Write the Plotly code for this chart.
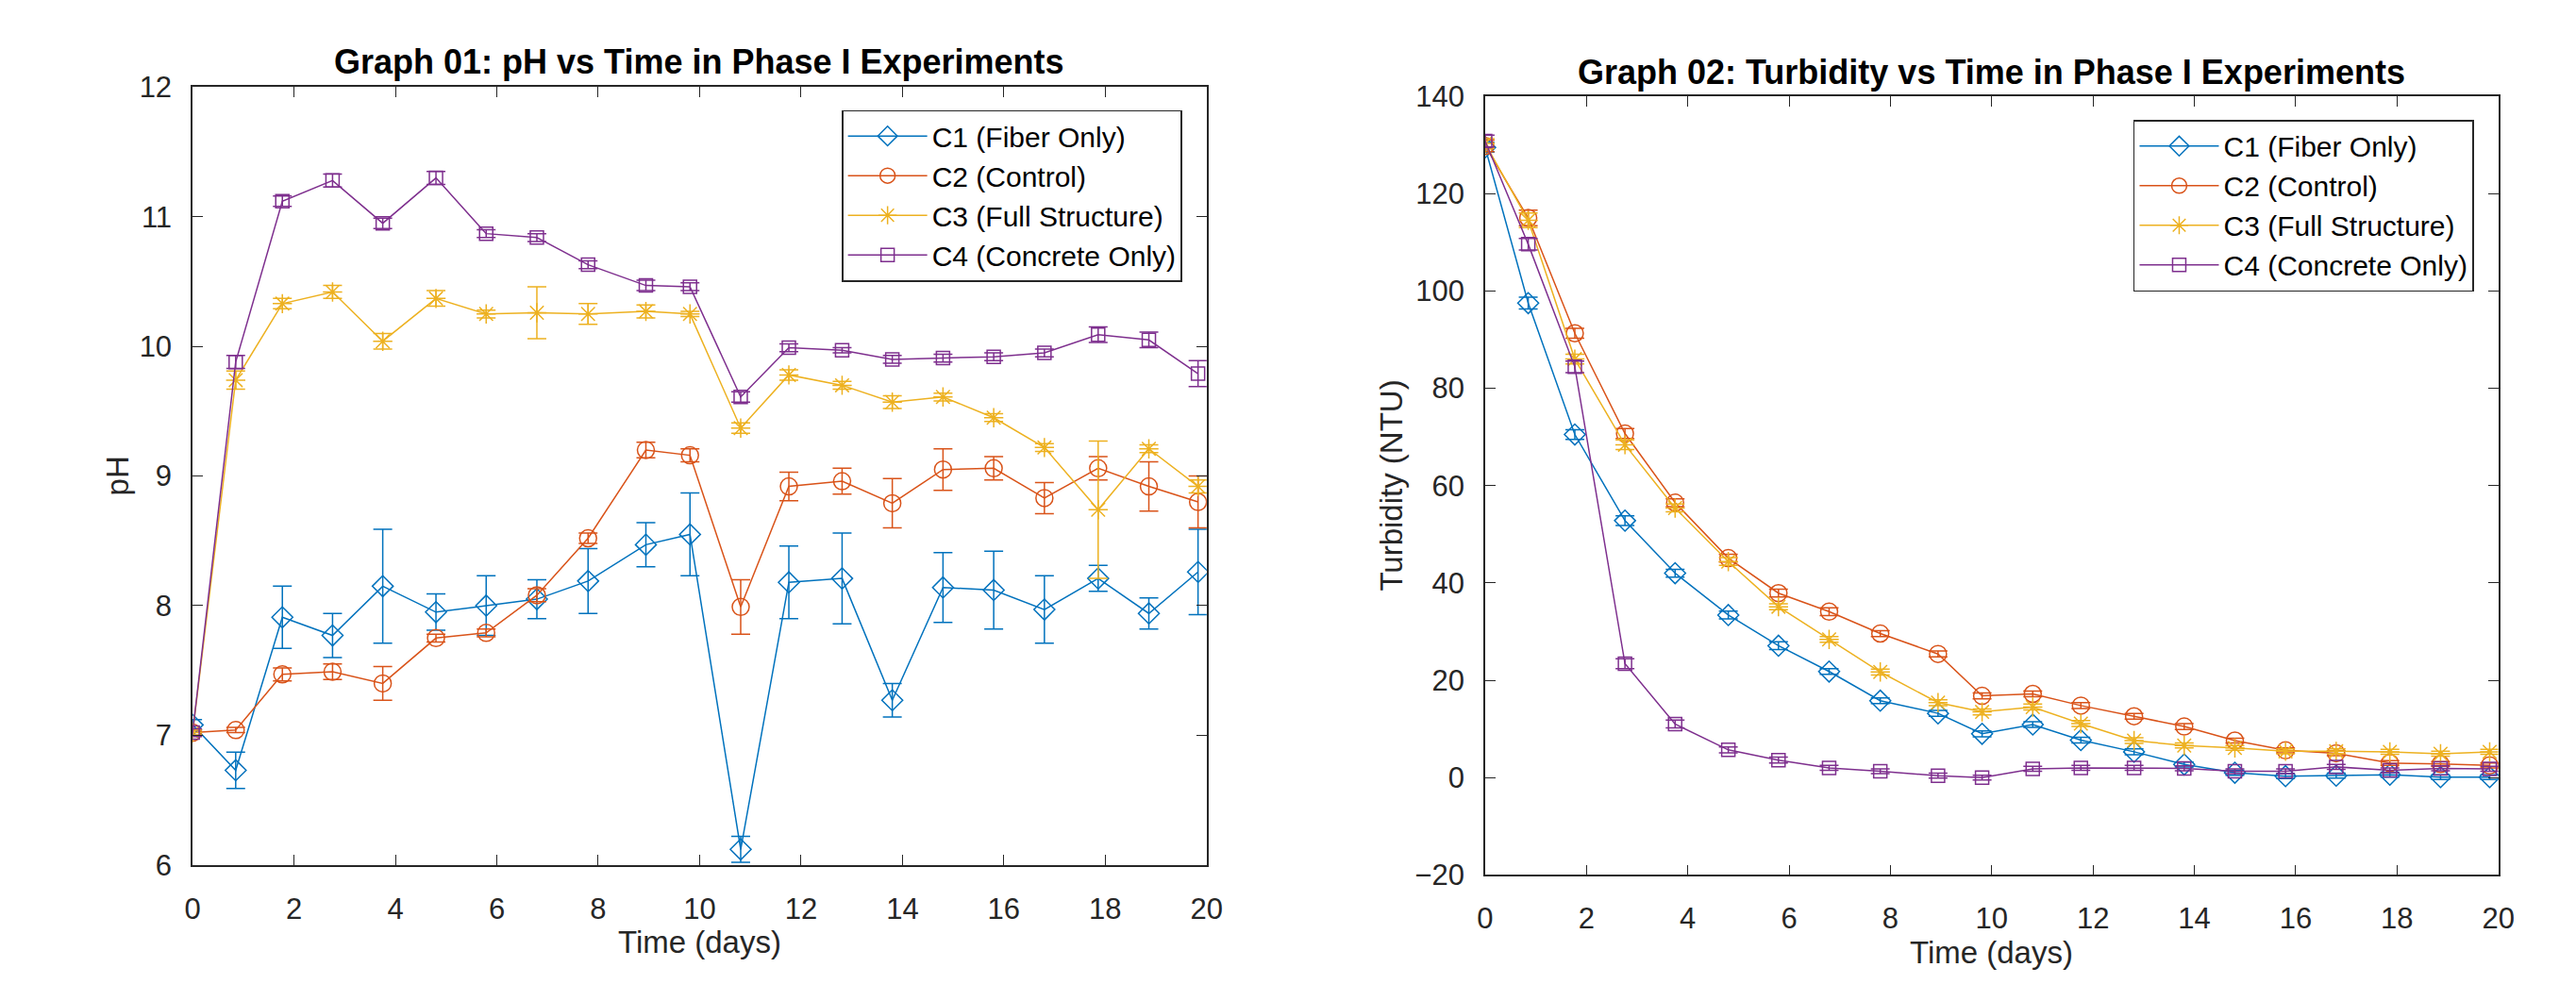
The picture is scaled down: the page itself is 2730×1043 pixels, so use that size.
import plotly.graph_objects as go

# ---------------- data ----------------
time_days = [0, 0.85, 1.77, 2.76, 3.75, 4.80, 5.79, 6.79, 7.80, 8.94, 9.81,
             10.81, 11.76, 12.81, 13.80, 14.80, 15.80, 16.80, 17.86, 18.86, 19.83]

series_names = ["C1 (Fiber Only)", "C2 (Control)", "C3 (Full Structure)", "C4 (Concrete Only)"]

ph_c1 = [7.08, 6.73, 7.91, 7.77, 8.15, 7.95, 8.00, 8.05, 8.19, 8.47, 8.55,
         6.12, 8.18, 8.21, 7.27, 8.14, 8.12, 7.97, 8.21, 7.94, 8.26]
ph_c1_err = [0.04, 0.14, 0.24, 0.17, 0.44, 0.14, 0.23, 0.15, 0.25, 0.17, 0.32,
             0.10, 0.28, 0.35, 0.13, 0.27, 0.30, 0.26, 0.10, 0.12, 0.33]
ph_c2 = [7.02, 7.04, 7.47, 7.49, 7.40, 7.75, 7.79, 8.08, 8.52, 9.20, 9.16,
         7.99, 8.92, 8.96, 8.79, 9.05, 9.06, 8.83, 9.06, 8.92, 8.80]
ph_c2_err = [0.02, 0.02, 0.05, 0.06, 0.13, 0.03, 0.03, 0.05, 0.04, 0.06, 0.05,
             0.21, 0.11, 0.10, 0.19, 0.16, 0.09, 0.12, 0.09, 0.19, 0.20]
ph_c3 = [7.02, 9.74, 10.33, 10.42, 10.04, 10.37, 10.25, 10.26, 10.25, 10.27, 10.25,
         9.37, 9.78, 9.70, 9.57, 9.61, 9.45, 9.22, 8.74, 9.21, 8.92]
ph_c3_err = [0.02, 0.07, 0.04, 0.05, 0.06, 0.06, 0.03, 0.20, 0.08, 0.05, 0.02,
             0.04, 0.04, 0.03, 0.05, 0.03, 0.03, 0.03, 0.53, 0.03, 0.05]
ph_c4 = [7.02, 9.88, 11.12, 11.28, 10.95, 11.30, 10.87, 10.84, 10.63, 10.47, 10.46,
         9.61, 9.99, 9.97, 9.90, 9.91, 9.92, 9.95, 10.09, 10.05, 9.79]
ph_c4_err = [0.03, 0.05, 0.04, 0.05, 0.04, 0.05, 0.03, 0.03, 0.03, 0.04, 0.03,
             0.04, 0.03, 0.02, 0.03, 0.03, 0.03, 0.03, 0.06, 0.06, 0.10]

tb_c1 = [129.5, 97.5, 70.5, 52.8, 42.0, 33.4, 27.1, 21.8, 15.8, 13.2, 9.0,
         10.9, 7.7, 5.3, 2.7, 1.0, 0.3, 0.4, 0.6, 0.1, 0.1]
tb_c1_err = [1.0, 1.2, 1.0, 1.0, 0.8, 0.8, 0.8, 0.6, 0.6, 0.6, 0.6,
             0.6, 0.6, 0.6, 0.5, 0.5, 0.5, 0.5, 0.5, 0.5, 0.5]
tb_c2 = [129.8, 115.0, 91.3, 70.7, 56.5, 45.1, 37.9, 34.1, 29.6, 25.4, 16.8,
         17.2, 14.8, 12.6, 10.5, 7.6, 5.6, 5.0, 3.0, 2.8, 2.5]
tb_c2_err = [1.2, 1.6, 1.0, 1.0, 0.8, 0.8, 0.8, 0.8, 0.6, 0.6, 0.6,
             0.6, 0.6, 0.6, 0.6, 0.5, 0.5, 0.5, 0.5, 0.5, 0.5]
tb_c3 = [130.3, 114.5, 86.0, 68.4, 55.4, 44.4, 35.1, 28.4, 21.7, 15.4, 13.5,
         14.5, 11.1, 7.6, 6.6, 6.1, 5.4, 5.4, 5.3, 4.9, 5.3]
tb_c3_err = [1.0, 1.5, 1.0, 1.0, 0.8, 0.8, 0.6, 0.6, 0.6, 0.6, 0.6,
             0.6, 0.6, 0.6, 0.5, 0.5, 0.5, 0.5, 0.5, 0.5, 0.5]
tb_c4 = [130.8, 109.6, 84.4, 23.4, 11.0, 5.7, 3.6, 2.0, 1.3, 0.4, 0.0,
         1.8, 2.0, 2.0, 1.9, 1.3, 1.3, 2.2, 1.5, 1.9, 1.8]
tb_c4_err = [1.2, 1.2, 1.2, 1.0, 0.8, 0.6, 0.6, 0.5, 0.5, 0.5, 0.5,
             0.5, 0.5, 0.5, 0.5, 0.5, 0.5, 0.5, 0.5, 0.5, 0.5]

x_ticks = [0, 2, 4, 6, 8, 10, 12, 14, 16, 18, 20]
ph_ticks = [6, 7, 8, 9, 10, 11, 12]
tb_ticks = [-20, 0, 20, 40, 60, 80, 100, 120, 140]

titles = ["Graph 01: pH vs Time in Phase I Experiments",
          "Graph 02: Turbidity vs Time in Phase I Experiments"]
x_label = "Time (days)"
y_labels = ["pH", "Turbidity (NTU)"]

# ---------------- style ----------------
W, H = 2730, 1043
colors = ["#0072BD", "#D95319", "#EDB120", "#7E2F8E"]
symbols = ["diamond-open", "circle-open", "asterisk-open", "square-open"]
msizes = [17, 18, 17, 14]
FONT = "Liberation Sans, Arial, Helvetica, sans-serif"
AX = "#262626"

# axes pixel boxes (left, right, top, bottom)
box1 = (197, 1282, 78, 931)
box2 = (1580, 2664, 88, 942)


def dom_x(b):
    return [b[0] / W, b[1] / W]


def dom_y(b):
    return [1 - b[3] / H, 1 - b[2] / H]


fig = go.Figure()

ph_sets = [(ph_c1, ph_c1_err), (ph_c2, ph_c2_err), (ph_c3, ph_c3_err), (ph_c4, ph_c4_err)]
tb_sets = [(tb_c1, tb_c1_err), (tb_c2, tb_c2_err), (tb_c3, tb_c3_err), (tb_c4, tb_c4_err)]

for k, (vals, errs) in enumerate(ph_sets):
    fig.add_trace(go.Scatter(
        x=time_days, y=vals, mode="lines+markers", name=series_names[k],
        line=dict(color=colors[k], width=1.5),
        marker=dict(symbol=symbols[k], size=msizes[k], color=colors[k],
                    line=dict(width=1.5, color=colors[k])),
        error_y=dict(type="data", array=errs, visible=True, color=colors[k],
                     thickness=1.5, width=10),
        xaxis="x", yaxis="y", legend="legend"))

for k, (vals, errs) in enumerate(tb_sets):
    fig.add_trace(go.Scatter(
        x=time_days, y=vals, mode="lines+markers", name=series_names[k],
        line=dict(color=colors[k], width=1.5),
        marker=dict(symbol=symbols[k], size=msizes[k], color=colors[k],
                    line=dict(width=1.5, color=colors[k])),
        error_y=dict(type="data", array=errs, visible=True, color=colors[k],
                     thickness=1.5, width=10),
        xaxis="x2", yaxis="y2", legend="legend2"))

axis_common = dict(
    showline=True, linecolor=AX, linewidth=1.6, mirror="ticks",
    ticks="inside", ticklen=11, tickwidth=1.4, tickcolor=AX,
    showgrid=False, zeroline=False,
    tickfont=dict(family=FONT, size=31, color=AX),
)

legend_common = dict(xanchor="right", yanchor="top",
                     bgcolor="white", bordercolor=AX, borderwidth=1.6,
                     font=dict(family=FONT, size=30, color="#000000"),
                     itemwidth=84, tracegroupgap=0)

fig.update_layout(
    width=W, height=H,
    margin=dict(l=0, r=0, t=0, b=0),
    paper_bgcolor="white", plot_bgcolor="white",
    font=dict(family=FONT, color=AX),
    xaxis=dict(domain=dom_x(box1), range=[0, 20], tickvals=x_ticks,
               anchor="y", ticklabelstandoff=18, **axis_common),
    yaxis=dict(domain=dom_y(box1), range=[6, 12], tickvals=ph_ticks,
               anchor="x", ticklabelstandoff=14, **axis_common),
    xaxis2=dict(domain=dom_x(box2), range=[0, 20], tickvals=x_ticks,
                anchor="y2", ticklabelstandoff=18, **axis_common),
    yaxis2=dict(domain=dom_y(box2), range=[-20, 140], tickvals=tb_ticks,
                anchor="x2", ticklabelstandoff=14, **axis_common),
    legend=dict(x=1256 / W, y=1 - 103 / H, **legend_common),
    legend2=dict(x=2638 / W, y=1 - 114 / H, **legend_common),
    showlegend=True,
)

ann = []
# titles
ann.append(dict(text="<b>" + titles[0] + "</b>", x=(box1[0] + box1[1]) / 2 / W,
                y=1 - 50 / H, xref="paper", yref="paper", showarrow=False,
                xanchor="center", yanchor="middle",
                font=dict(family=FONT, size=36, color="#000000")))
ann.append(dict(text="<b>" + titles[1] + "</b>", x=(box2[0] + box2[1]) / 2 / W,
                y=1 - 62 / H, xref="paper", yref="paper", showarrow=False,
                xanchor="center", yanchor="middle",
                font=dict(family=FONT, size=36, color="#000000")))
# x labels
ann.append(dict(text=x_label, x=(box1[0] + box1[1]) / 2 / W, y=1 - 1016 / H,
                xref="paper", yref="paper", showarrow=False,
                xanchor="center", yanchor="middle",
                font=dict(family=FONT, size=33, color=AX)))
ann.append(dict(text=x_label, x=(box2[0] + box2[1]) / 2 / W, y=1 - 1027 / H,
                xref="paper", yref="paper", showarrow=False,
                xanchor="center", yanchor="middle",
                font=dict(family=FONT, size=33, color=AX)))
# y labels
ann.append(dict(text=y_labels[0], x=117 / W, y=1 - (box1[2] + box1[3]) / 2 / H,
                xref="paper", yref="paper", showarrow=False, textangle=-90,
                xanchor="center", yanchor="middle",
                font=dict(family=FONT, size=33, color=AX)))
ann.append(dict(text=y_labels[1], x=1480 / W, y=1 - (box2[2] + box2[3]) / 2 / H,
                xref="paper", yref="paper", showarrow=False, textangle=-90,
                xanchor="center", yanchor="middle",
                font=dict(family=FONT, size=33, color=AX)))
fig.update_layout(annotations=ann)

fig.write_html("out.html",
               config={"displayModeBar": False},
               post_script="document.body.style.margin='0';"
                           "document.body.style.overflow='hidden';")
